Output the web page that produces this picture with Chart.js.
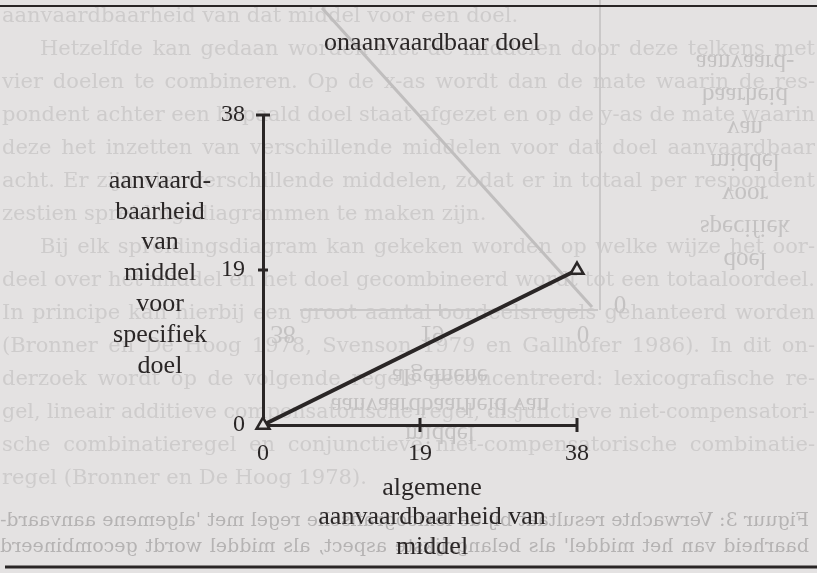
<!DOCTYPE html>
<html>
<head>
<meta charset="utf-8">
<script src="https://cdn.jsdelivr.net/npm/chart.js@4.4.1/dist/chart.umd.min.js"></script>
<style>
  html, body { margin: 0; padding: 0; background: #e4e2e2; }
  #chart { display: block; }
</style>
</head>
<body>
<canvas id="chart" width="817" height="573"></canvas>
<script>
const paper = '#e4e2e2';
const ink = '#2a2626';
const serif = '"Liberation Serif", "DejaVu Serif", serif';
const bleedSerif = '"DejaVu Serif", "Liberation Serif", serif';

// --- DATA ---
const xTicks = [0, 19, 38];
const yTicks = [0, 19, 38];
const xValues = [0, 38];
const yValues = [0, 19];

const chartTitle = 'onaanvaardbaar doel';
const yTitle = ['aanvaard-', 'baarheid', 'van', 'middel', 'voor', 'specifiek', 'doel'];
const xTitle = ['algemene', 'aanvaardbaarheid van', 'middel'];

// text from the page that shows through the paper
const bleedText = [
  'aanvaardbaarheid van dat middel voor een doel.',
  'Hetzelfde kan gedaan worden met de middelen door deze telkens met',
  'vier doelen te combineren. Op de x-as wordt dan de mate waarin de res-',
  'pondent achter een bepaald doel staat afgezet en op de y-as de mate waarin',
  'deze het inzetten van verschillende middelen voor dat doel aanvaardbaar',
  'acht. Er zijn vier verschillende middelen, zodat er in totaal per respondent',
  'zestien spreidingsdiagrammen te maken zijn.',
  'Bij elk spreidingsdiagram kan gekeken worden op welke wijze het oor-',
  'deel over het middel en het doel gecombineerd wordt tot een totaaloordeel.',
  'In principe kan hierbij een groot aantal oordeelsregels gehanteerd worden',
  '(Bronner en De Hoog 1978, Svenson 1979 en Gallhofer 1986). In dit on-',
  'derzoek wordt op de volgende regels geconcentreerd: lexicografische re-',
  'gel, lineair additieve compensatorische regel, disjunctieve niet-compensatori-',
  'sche combinatieregel en conjunctieve niet-compensatorische combinatie-',
  'regel (Bronner en De Hoog 1978).'
];
const bleedIndent = [1, 7];
const bleedLast = [0, 6, 14];
const captionText = [
  "Figuur 3: Verwachte resultaat bij de lexicografische regel met 'algemene aanvaard-",
  "baarheid van het middel' als belangrijkste aspect, als middel wordt gecombineerd"
];
const backYTitle = ['aanvaard-', 'baarheid', 'van', 'middel', 'voor', 'specifiek', 'doel'];
const backXTitle = ['algemene', 'aanvaardbaarheid van', 'middel'];
const backXLabels = ['38', '19', '0'];

function justifyLine(ctx, text, x0, x1, y, full) {
  const words = text.split(' ');
  if (!full || words.length < 2) { ctx.fillText(text, x0, y, x1 - x0); return; }
  const wordsW = words.reduce((s, w) => s + ctx.measureText(w).width, 0);
  const gap = (x1 - x0 - wordsW) / (words.length - 1);
  if (gap < 4) { ctx.fillText(text, x0, y, x1 - x0); return; }
  let x = x0;
  words.forEach(w => { ctx.fillText(w, x, y); x += ctx.measureText(w).width + gap; });
}

function flippedText(ctx, text, x, y) {
  ctx.save();
  ctx.translate(x, y);
  ctx.scale(1, -1);
  ctx.fillText(text, 0, 0);
  ctx.restore();
}

// --- FONDO: papel y lo que se transparenta ---
const paperPlugin = {
  id: 'paper',
  beforeDraw(chart) {
    const { ctx, width, height } = chart;
    ctx.save();
    ctx.fillStyle = paper;
    ctx.fillRect(0, 0, width, height);

    ctx.font = `21px ${bleedSerif}`;
    ctx.fillStyle = '#cecccc';
    ctx.textBaseline = 'middle';
    ctx.textAlign = 'left';
    bleedText.forEach((line, i) => {
      const x0 = bleedIndent.includes(i) ? 40 : 2;
      justifyLine(ctx, line, x0, 815, 17 + 33 * i, !bleedLast.includes(i));
    });

    // caption from the back side, mirrored
    ctx.save();
    ctx.translate(width, 0);
    ctx.scale(-1, 1);
    ctx.font = `19px ${bleedSerif}`;
    ctx.fillStyle = '#b5b3b3';
    captionText.forEach((line, i) => justifyLine(ctx, line, 8, 817, 521 + 26 * i, true));
    ctx.restore();

    // chart from the back side
    ctx.strokeStyle = '#cac8c8';
    ctx.lineWidth = 2;
    ctx.beginPath();
    ctx.moveTo(600, 0); ctx.lineTo(600, 310);
    ctx.moveTo(300, 310); ctx.lineTo(598, 310);
    ctx.moveTo(440, 304); ctx.lineTo(440, 316);
    ctx.stroke();
    ctx.strokeStyle = '#c0bebe';
    ctx.lineWidth = 3;
    ctx.beginPath();
    ctx.moveTo(322, 8); ctx.lineTo(592, 307);
    ctx.stroke();

    ctx.fillStyle = '#c4c2c2';
    ctx.textAlign = 'center';
    ctx.font = `25px ${serif}`;
    backXTitle.forEach((t, i) => flippedText(ctx, t, 440, 376 + 29 * i));
    [283, 432, 583].forEach((x, i) => flippedText(ctx, backXLabels[i], x, 333));
    flippedText(ctx, '0', 620, 303);
    backYTitle.forEach((t, i) => flippedText(ctx, t, 745, 62 + 33 * i));
    ctx.restore();
  }
};

// --- FIGURA: marcas, títulos y reglas ---
const figurePlugin = {
  id: 'figure',
  afterDraw(chart) {
    const { ctx, chartArea: a, scales: { x, y }, width } = chart;
    ctx.save();
    ctx.strokeStyle = ink;
    ctx.lineWidth = 3;
    ctx.beginPath();
    yTicks.filter(v => v > 0).forEach(v => {
      const py = y.getPixelForValue(v);
      const h = v === y.max ? 7 : 5;
      ctx.moveTo(a.left - h, py); ctx.lineTo(a.left + h, py);
    });
    xTicks.filter(v => v > 0).forEach(v => {
      const px = x.getPixelForValue(v);
      ctx.moveTo(px, a.bottom - 7); ctx.lineTo(px, a.bottom + 7);
    });
    ctx.stroke();

    ctx.fillStyle = ink;
    ctx.textAlign = 'center';
    ctx.textBaseline = 'middle';
    ctx.font = `26px ${serif}`;
    const cx = (a.left + a.right) / 2 + 12;
    ctx.fillText(chartTitle, cx, 43);
    yTitle.forEach((t, i) => ctx.fillText(t, a.left - 103, 181 + 30.8 * i));
    xTitle.forEach((t, i) => ctx.fillText(t, cx, 488 + 29.5 * i));

    // page rules
    ctx.lineWidth = 2;
    ctx.beginPath();
    ctx.moveTo(0, 6); ctx.lineTo(width, 6);
    ctx.stroke();
    ctx.lineWidth = 3;
    ctx.beginPath();
    ctx.moveTo(5, 567); ctx.lineTo(width, 567);
    ctx.stroke();
    ctx.restore();
  }
};

const tickFont = { family: serif, size: 24 };

new Chart(document.getElementById('chart'), {
  type: 'scatter',
  data: {
    datasets: [{
      data: xValues.map((v, i) => ({ x: v, y: yValues[i] })),
      showLine: true,
      borderColor: ink,
      borderWidth: 4,
      pointStyle: 'triangle',
      pointRadius: 7.5,
      pointBorderWidth: 2.5,
      pointBorderColor: ink,
      pointBackgroundColor: paper,
      clip: false
    }]
  },
  options: {
    responsive: false,
    animation: false,
    events: [],
    layout: { padding: { left: 0, top: 115, right: 240, bottom: 0 } },
    plugins: { legend: { display: false }, tooltip: { enabled: false } },
    scales: {
      x: {
        type: 'linear', min: 0, max: 38,
        afterBuildTicks: s => { s.ticks = xTicks.map(v => ({ value: v })); },
        afterFit: s => { s.height = 148; },
        grid: { display: false },
        border: { display: true, color: ink, width: 3 },
        ticks: { color: ink, font: tickFont, padding: 6, maxRotation: 0, autoSkip: false }
      },
      y: {
        type: 'linear', min: 0, max: 38,
        afterBuildTicks: s => { s.ticks = yTicks.map(v => ({ value: v })); },
        afterFit: s => { s.width = 263; },
        grid: { display: false },
        border: { display: true, color: ink, width: 3 },
        ticks: { color: ink, font: tickFont, padding: 10, autoSkip: false }
      }
    }
  },
  plugins: [paperPlugin, figurePlugin]
});
</script>
</body>
</html>
